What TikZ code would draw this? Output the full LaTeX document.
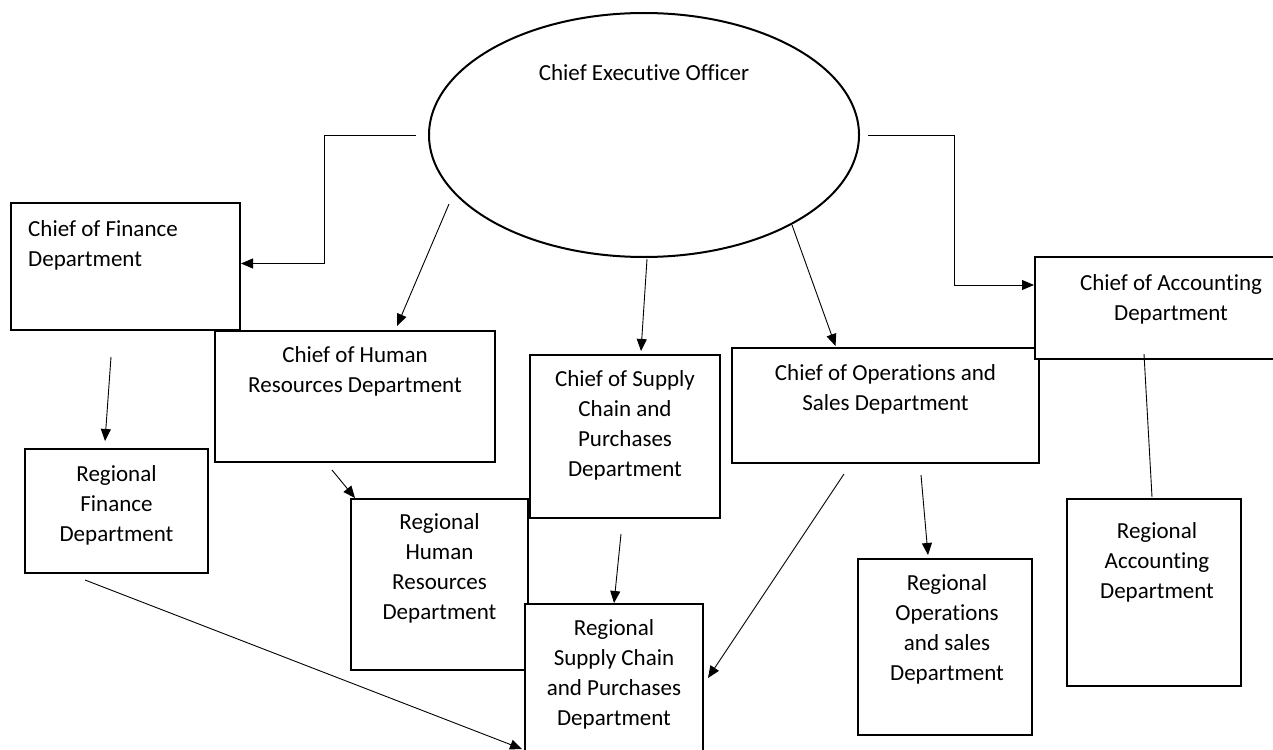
\documentclass[tikz,border=0pt]{standalone}
\usepackage{fontspec}
\setmainfont{Carlito}[Ligatures=NoCommon]
\usetikzlibrary{shapes.geometric,arrows.meta,calc}
\begin{document}
\begin{tikzpicture}[x=1pt, y=-1pt, font=\fontsize{23}{30}\selectfont]
            \tikzstyle{block} = [rectangle, draw, fill=white, line width=2pt, anchor=north west, inner sep=0pt]
            \tikzstyle{inside} = [anchor=north, align=center, inner sep=0pt]
            \tikzstyle{arr} = [-{Triangle[length=12pt,width=10pt]}, line width=0.9pt]
            \useasboundingbox (0,0) rectangle (1273,749);
            \clip (0,0) rectangle (1273,749);

            \node [ellipse, draw, line width=2pt, minimum width=430pt, minimum height=244pt, inner sep=0pt,
                   label={[inside, yshift=-52.5pt]north:Chief Executive Officer}] (ceo) at (644,135) {};

            \node [block, minimum width=229pt, minimum height=127pt,
                   label={[inside, align=left, anchor=north west, xshift=18pt, yshift=-18.5pt]north west:Chief of Finance\\Department}] (finchief) at (10,202) {};
            \node [block, minimum width=280pt, minimum height=131pt,
                   label={[inside, yshift=-16.5pt]north:Chief of Human\\Resources Department}] (hrchief) at (214,330) {};
            \node [block, minimum width=177pt, minimum height=171pt,
                   label={[inside, yshift=-15.5pt]north:Regional\\Human\\Resources\\Department}] (reghr) at (350,498) {};
            \node [block, minimum width=190pt, minimum height=163pt,
                   label={[inside, yshift=-16.5pt]north:Chief of Supply\\Chain and\\Purchases\\Department}] (supchief) at (529,354) {};
            \node [block, minimum width=307pt, minimum height=115pt,
                   label={[inside, yshift=-17.5pt]north:Chief of Operations and\\Sales Department}] (opschief) at (731,347) {};
            \node [block, minimum width=272pt, minimum height=102pt,
                   label={[inside, yshift=-18.5pt]north:Chief of Accounting\\Department}] (acctchief) at (1034,256) {};

            \node [block, minimum width=183pt, minimum height=124pt,
                   label={[inside, yshift=-17.5pt]north:Regional\\Finance\\Department}] (regfin) at (24,448) {};
            \node [block, minimum width=178pt, minimum height=172pt,
                   label={[inside, yshift=-16.5pt]north:Regional\\Supply Chain\\and Purchases\\Department}] (regsup) at (524,603) {};
            \node [block, minimum width=174pt, minimum height=176pt,
                   label={[inside, xshift=2pt, yshift=-16.5pt]north:Regional\\Operations\\and sales\\Department}] (regops) at (857,558) {};
            \node [block, minimum width=174pt, minimum height=187pt,
                   label={[inside, xshift=3pt, yshift=-24.5pt]north:Regional\\Accounting\\Department}] (regacct) at (1066,498) {};

            % from the chief executive
            \draw[arr] ($(ceo.west)+(-12,0)$) -- ++(-92,0) |- ($(finchief.east)+(0,-3)$);
            \draw[arr] ($(ceo.center)+(-195,69)$) -- ($(hrchief.north)+(42,-4)$);
            \draw[arr] ($(ceo.south)+(3,1)$) -- ($(supchief.north)+(16,-3)$);
            \draw[arr] ($(ceo.center)+(148,90)$) -- ($(opschief.north)+(-50,-1)$);
            \draw[arr] ($(ceo.east)+(8,0)$) -- ++(86,0) |- ($(acctchief.west)+(0,-23)$);

            % to the regional departments
            \draw[arr] ($(finchief.south)+(-14.5,26)$) -- ($(regfin.north)+(-11.5,-7)$);
            \draw[arr] ($(hrchief.south)+(-23,7)$) -- ($(reghr.north west)+(5,0)$);
            \draw[arr] ($(supchief.south)+(-4,15)$) -- (regsup.north);
            \draw[arr] ($(opschief.south)+(-41.5,10)$) -- ($(regsup.east)+(4,-12)$);
            \draw[arr] ($(opschief.south)+(35.5,11)$) -- ($(regops.north)+(-17,-3)$);
            \draw[line width=0.9pt] ($(acctchief.south)+(-27,-6)$) -- ($(regacct.north)+(-2,-1)$);
            \draw[arr] ($(regfin.south)+(-31.5,6)$) -- ($(regsup.west)+(-2,59)$);
\end{tikzpicture}
\end{document}
